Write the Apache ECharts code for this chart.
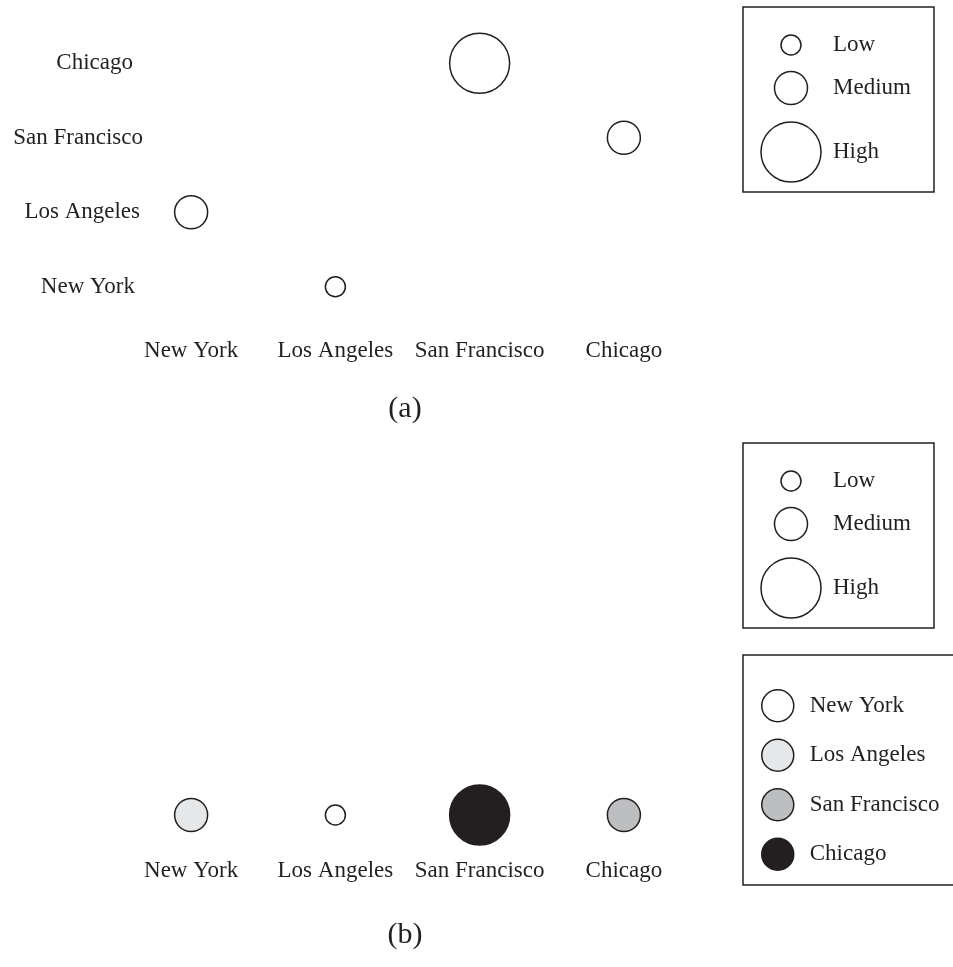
<!DOCTYPE html>
<html><head><meta charset="utf-8">
<script src="https://cdn.jsdelivr.net/npm/echarts@6/dist/echarts.min.js"></script>
<style>html,body{margin:0;padding:0;background:#fff}#main{width:953px;height:967px}</style>
</head><body><div id="main"></div>
<script>
// ---- data ----
const cities = ['New York', 'Los Angeles', 'San Francisco', 'Chicago'];
const levels = ['Low', 'Medium', 'High'];
const pointX = ['San Francisco', 'Chicago', 'New York', 'Los Angeles'];
const pointY = ['Chicago', 'San Francisco', 'Los Angeles', 'New York'];
const pointLevel = ['High', 'Medium', 'Medium', 'Low'];
const panelTitles = ['(a)', '(b)'];

// ---- styles ----
const FONT = '"Liberation Serif", "Times New Roman", serif';
const FS = 23;
const INK = '#231f20';
const sizeOf = { Low: 20, Medium: 33, High: 60 };
const colorOf = { 'New York': '#ffffff', 'Los Angeles': '#e6e7e8', 'San Francisco': '#bcbec0', 'Chicago': '#231f20' };
const yLabelPad = { 'Chicago': 10, 'San Francisco': 0, 'Los Angeles': 3, 'New York': 8 };

const rich = {};
cities.forEach((c, i) => { rich['k' + i] = { fontFamily: FONT, fontSize: FS, color: INK, padding: [0, yLabelPad[c], 0, 0] }; });

const labelStyle = { fontFamily: FONT, fontSize: FS, color: INK };
const hidden = { axisLine: { show: false }, axisTick: { show: false }, splitLine: { show: false } };

function sizeLegend(top) {
  const offs = [38, 81, 145];
  const els = [{ type: 'rect', shape: { x: 743, y: top, width: 191, height: 185 }, style: { fill: 'none', stroke: INK, lineWidth: 1.5 } }];
  levels.forEach((l, i) => {
    els.push({ type: 'circle', shape: { cx: 791, cy: top + offs[i], r: sizeOf[l] / 2 }, style: { fill: '#fff', stroke: INK, lineWidth: 1.5 } });
    els.push({ type: 'text', x: 833, y: top + offs[i], style: { text: l, fontFamily: FONT, fontSize: FS, fill: INK, align: 'left', verticalAlign: 'middle' } });
  });
  return els;
}

const chart = echarts.init(document.getElementById('main'), null, { renderer: 'canvas' });
chart.setOption({
  animation: false,
  backgroundColor: '#fff',
  grid: [
    { left: 119, width: 577, top: 26, height: 298 },
    { left: 119, width: 577, top: 786, height: 58 }
  ],
  xAxis: [
    Object.assign({ type: 'category', gridIndex: 0, data: cities, axisLabel: Object.assign({ interval: 0, margin: 15 }, labelStyle) }, hidden),
    Object.assign({ type: 'category', gridIndex: 1, data: cities, axisLabel: Object.assign({ interval: 0, margin: 15 }, labelStyle) }, hidden)
  ],
  yAxis: [
    Object.assign({ type: 'category', gridIndex: 0, data: cities, axisLabel: Object.assign({ interval: 0, margin: -24, align: 'right', rich: rich,
      formatter: v => '{k' + cities.indexOf(v) + '|' + v + '}' }, labelStyle) }, hidden),
    Object.assign({ type: 'category', gridIndex: 1, data: ['row'], axisLabel: { show: false } }, hidden)
  ],
  legend: {
    data: cities, orient: 'vertical', left: 743, top: 655, padding: [34, 40, 14, 18],
    itemWidth: 32, itemHeight: 32, itemGap: 16, icon: 'circle', selectedMode: false,
    borderColor: INK, borderWidth: 1.5,
    itemStyle: { borderColor: INK, borderWidth: 1.5 },
    textStyle: { fontFamily: FONT, fontSize: FS, color: INK, padding: [0, 0, 0, 11] }
  },
  series: [
    {
      name: 'levels', type: 'scatter', xAxisIndex: 0, yAxisIndex: 0, silent: true,
      data: pointX.map((x, i) => [x, pointY[i], pointLevel[i]]),
      symbolSize: d => sizeOf[d[2]],
      itemStyle: { color: '#ffffff', borderColor: INK, borderWidth: 1.5, opacity: 1 }
    }
  ].concat(cities.map(c => ({
    name: c, type: 'scatter', xAxisIndex: 1, yAxisIndex: 1, silent: true,
    data: pointX.map((x, i) => pointY[i] === c ? [x, 'row', pointLevel[i]] : null).filter(Boolean),
    symbolSize: d => sizeOf[d[2]],
    itemStyle: { color: colorOf[c], borderColor: INK, borderWidth: 1.5, opacity: 1 }
  }))),
  graphic: sizeLegend(7).concat(sizeLegend(443)).concat([
    { type: 'text', x: 405, y: 409, style: { text: panelTitles[0], fontFamily: FONT, fontSize: 30, fill: INK, align: 'center', verticalAlign: 'middle' } },
    { type: 'text', x: 405, y: 935, style: { text: panelTitles[1], fontFamily: FONT, fontSize: 30, fill: INK, align: 'center', verticalAlign: 'middle' } }
  ])
});
</script>
</body></html>
